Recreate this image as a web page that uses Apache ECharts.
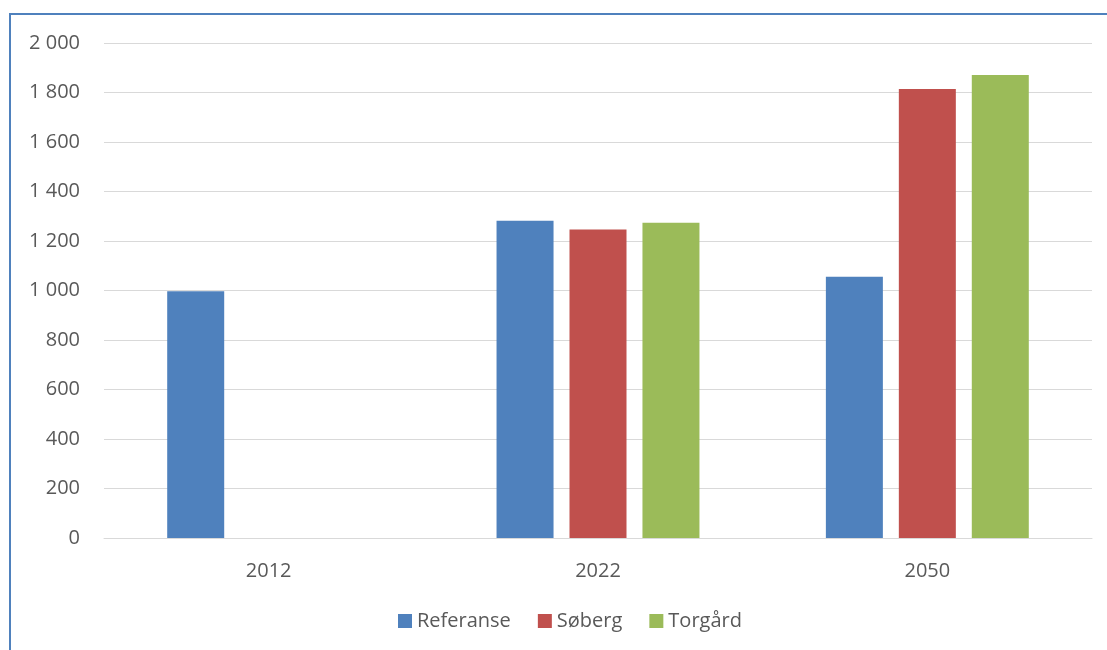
<!DOCTYPE html>
<html>
<head>
<meta charset="utf-8">
<script src="https://cdn.jsdelivr.net/npm/echarts@6/dist/echarts.min.js"></script>
<style>
  html, body { margin: 0; padding: 0; background: #fff; }
  #chart { width: 1107px; height: 650px; }
</style>
</head>
<body>
<div id="chart"></div>
<script>
const years = ['2012', '2022', '2050']
const referanse = [997, 1282, 1056]
const soberg = [null, 1246, 1814]
const torgard = [null, 1274, 1871]

const colors = ['#4F81BD', '#C0504D', '#9BBB59']
const textColor = '#595959'
const fontFamily = '"Open Sans", "Liberation Sans", sans-serif'

// thousands separator with space, like "2 000"
function fmt(v) {
  return String(v).replace(/\B(?=(\d{3})+(?!\d))/g, ' ')
}

const chart = echarts.init(document.getElementById('chart'))

chart.setOption({
  animation: false,
  color: colors,
  textStyle: { fontFamily: fontFamily },
  graphic: [{
    type: 'rect',
    shape: { x: 10, y: 14, width: 1200, height: 800 },
    style: { fill: 'none', stroke: '#4F81BD', lineWidth: 2 },
    silent: true
  }],
  grid: {
    left: 104,
    right: 15,
    top: 43,
    bottom: 112
  },
  legend: {
    bottom: 14,
    left: 393,
    itemWidth: 14,
    itemHeight: 14,
    itemGap: 27,
    icon: 'rect',
    textStyle: { color: textColor, fontSize: 20, fontFamily: fontFamily },
    data: ['Referanse', 'Søberg', 'Torgård']
  },
  xAxis: {
    type: 'category',
    data: years,
    axisLine: { lineStyle: { color: '#D9D9D9', width: 1 } },
    axisTick: { show: false },
    axisLabel: { color: textColor, fontSize: 20, margin: 23 }
  },
  yAxis: {
    type: 'value',
    min: 0,
    max: 2000,
    interval: 200,
    axisLine: { show: false },
    axisTick: { show: false },
    axisLabel: { color: textColor, fontSize: 20, margin: 24, formatter: fmt },
    splitLine: { lineStyle: { color: '#D9D9D9', width: 1 } }
  },
  series: [{
    name: 'Referanse',
    type: 'bar',
    data: referanse,
    barWidth: 57,
    barGap: '28%'
  }, {
    name: 'Søberg',
    type: 'bar',
    data: soberg,
    barWidth: 57,
    barGap: '28%'
  }, {
    name: 'Torgård',
    type: 'bar',
    data: torgard,
    barWidth: 57,
    barGap: '28%'
  }]
})
</script>
</body>
</html>
